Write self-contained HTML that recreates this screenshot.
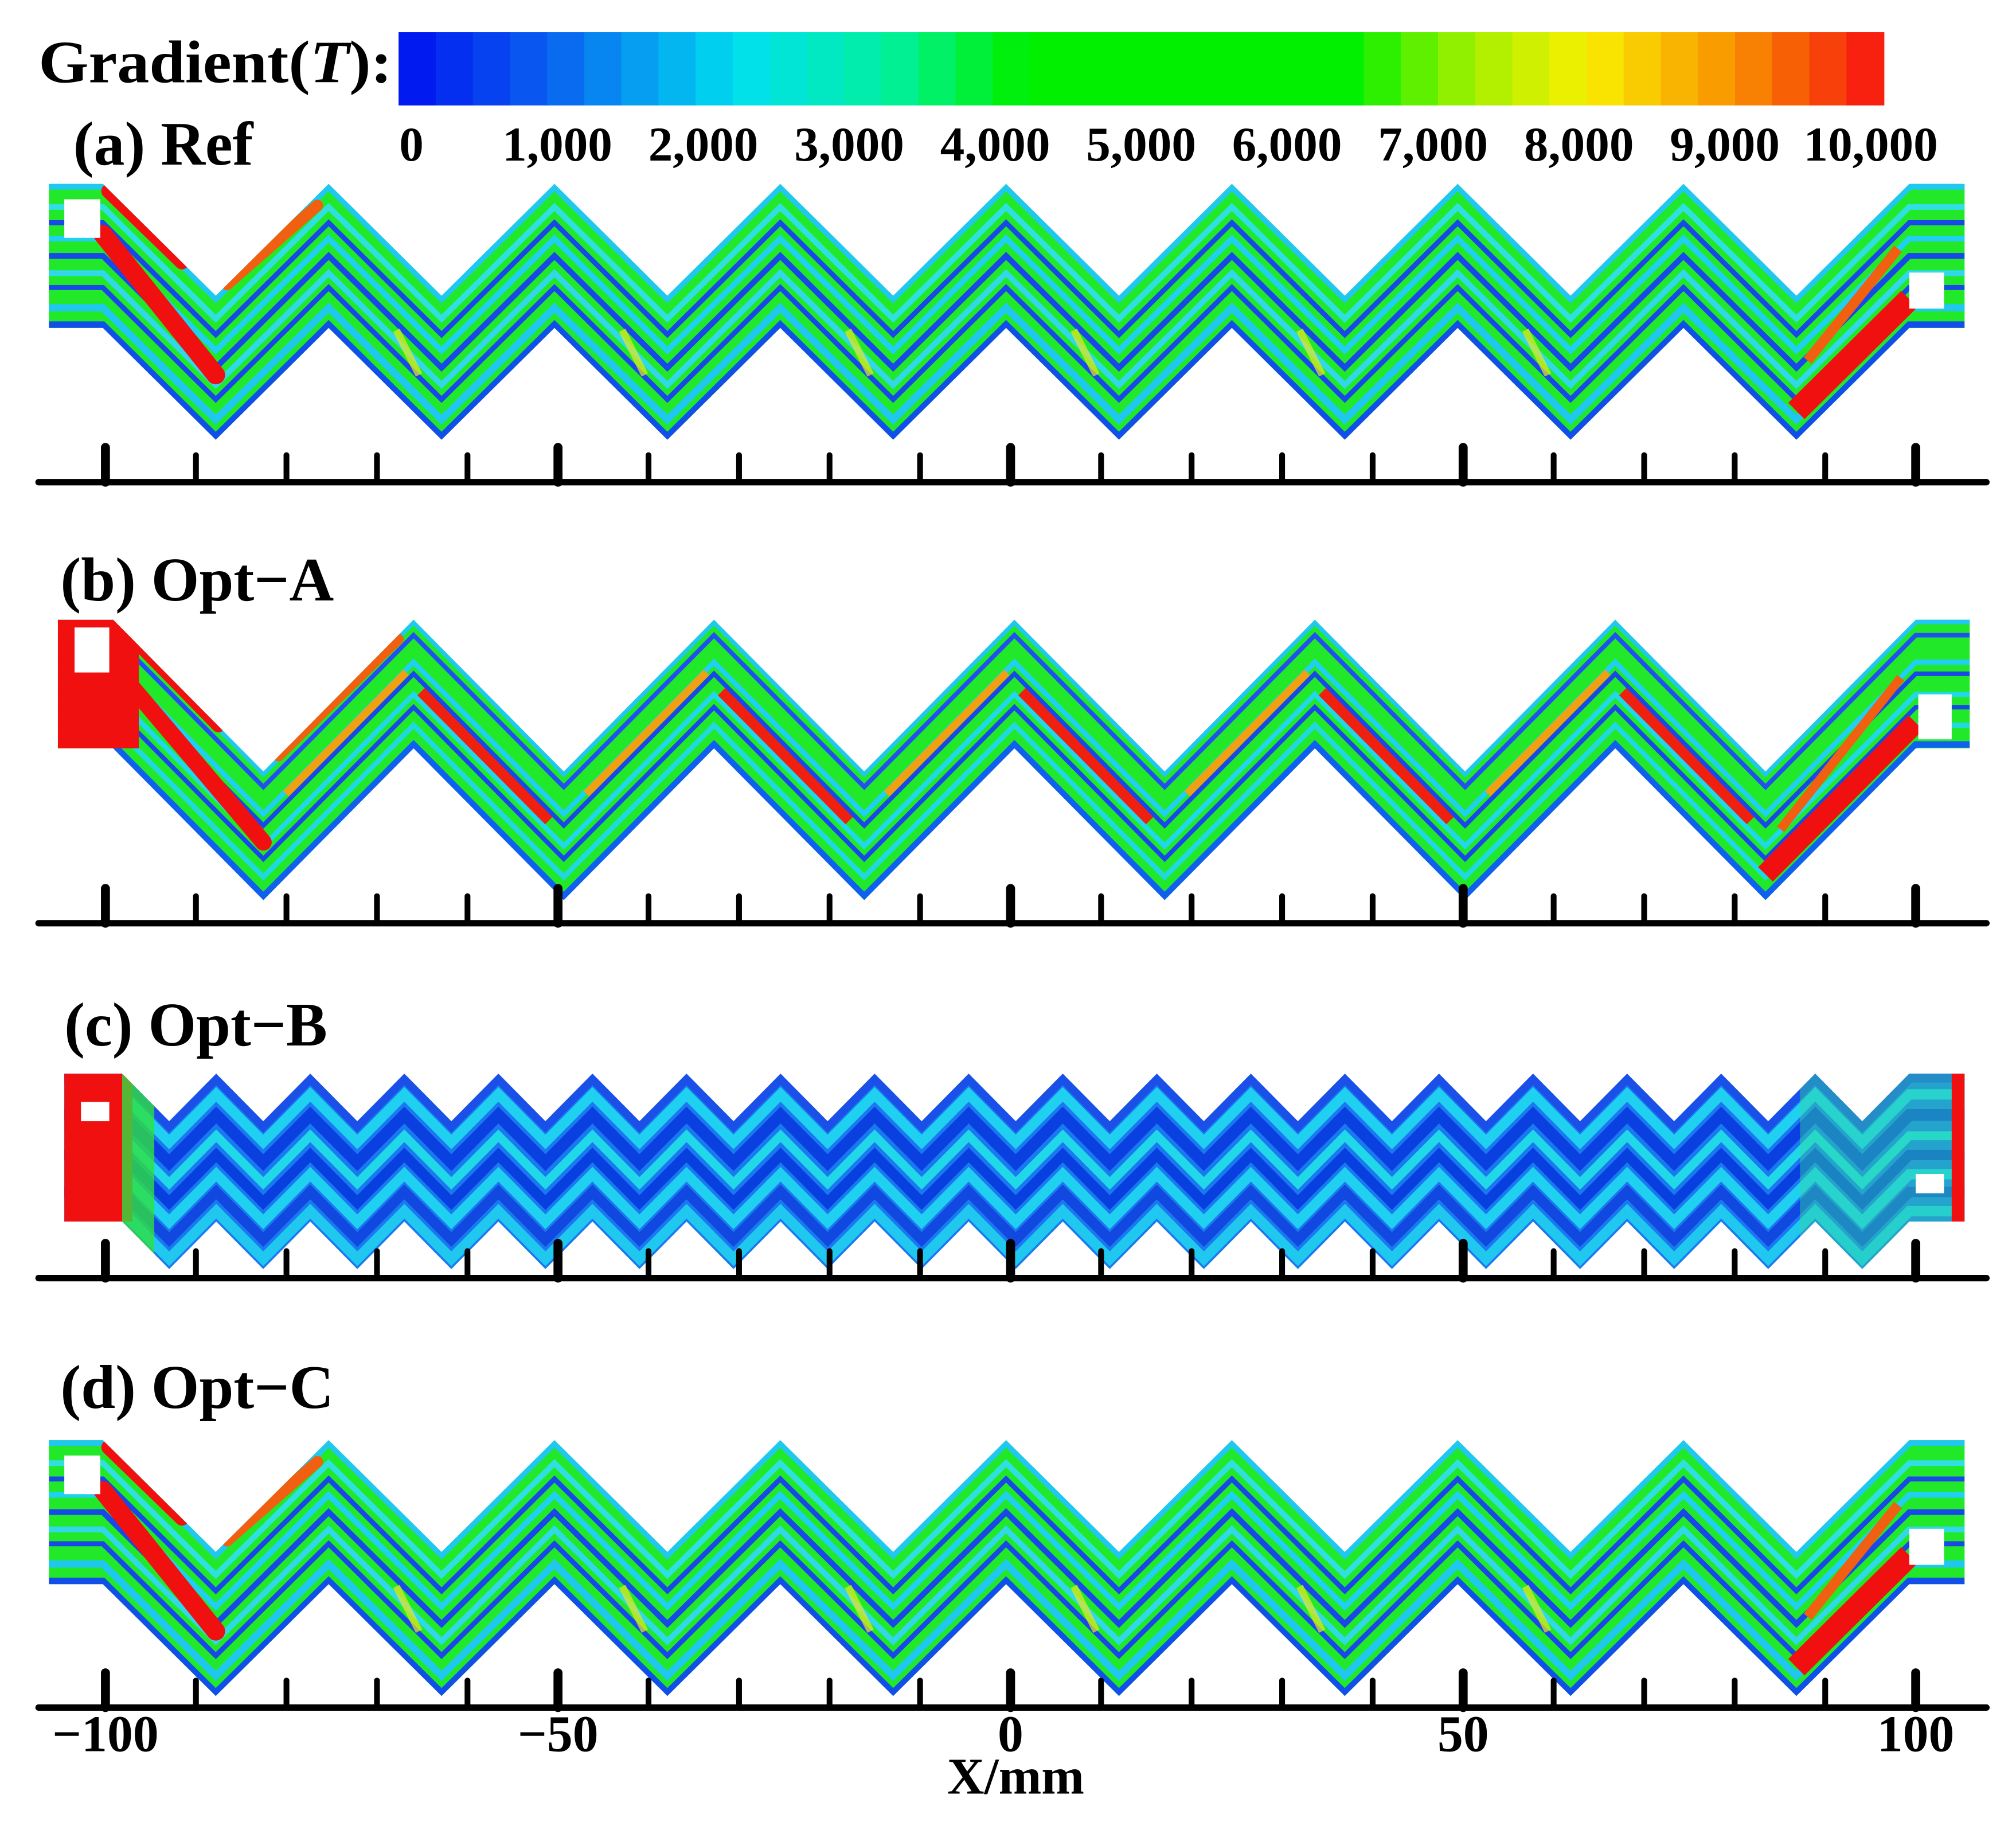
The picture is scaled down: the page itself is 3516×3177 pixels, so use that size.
<!DOCTYPE html>
<html><head><meta charset="utf-8"><style>
html,body{margin:0;padding:0;background:#fff;}
svg{display:block;}
text{font-family:"Liberation Serif",serif;font-weight:bold;fill:#000;}
</style></head><body>
<svg id="fig" xmlns="http://www.w3.org/2000/svg" width="3516" height="3177" viewBox="0 0 1568 1417" preserveAspectRatio="none">
<defs id="defs"></defs>
<text x="30" y="64" font-size="47" textLength="275" lengthAdjust="spacingAndGlyphs">Gradient(<tspan font-style="italic">T</tspan>):</text>
<g id="cbar"></g>
<g id="cbticks"></g>
<g id="panels"></g>
<text x="790" y="1395" font-size="40" text-anchor="middle">X/mm</text>
</svg>
<script>
const cbTickValues=[0,1000,2000,3000,4000,5000,6000,7000,8000,9000,10000];
const cbTickLabels=["0","1,000","2,000","3,000","4,000","5,000","6,000","7,000","8,000","9,000","10,000"];
const cbStopPos=[0,0.1,0.23,0.33,0.42,0.64,0.72,0.8,0.9,1];
const cbStopCol=["#0010f0","#0a60f0","#00e0f0","#00f0a0","#00f000","#00f000","#a0f000","#f8f000","#f89000","#f81010"];
const xMajor=[-100,-50,0,50,100];
const xMajorLabels=["\u2212100","\u221250","0","50","100"];
const xMinor=[-90,-80,-70,-60,-40,-30,-20,-10,10,20,30,40,60,70,80,90];
const panelNames=["(a) Ref","(b) Opt\u2212A","(c) Opt\u2212B","(d) Opt\u2212C"];
const panelTop=[143,482,835,1120];
const panelRectH=[112,100,115,112];
const panelAmp=[87,118,37,87];
const panelPeriods=[8,6,19,8];

const NS="http://www.w3.org/2000/svg";
const svg=document.getElementById('fig');
function mk(tag,attrs,parent){const e=document.createElementNS(NS,tag);for(const k in attrs)e.setAttribute(k,attrs[k]);parent.appendChild(e);return e;}
const cbX0=310,cbX1=1465,cbY=25,cbH=57;
function lerp(a,b,t){return a+(b-a)*t;}
function hex(c){return [parseInt(c.slice(1,3),16),parseInt(c.slice(3,5),16),parseInt(c.slice(5,7),16)];}
function cmap(t){for(let i=0;i<cbStopPos.length-1;i++){if(t<=cbStopPos[i+1]){const u=(t-cbStopPos[i])/(cbStopPos[i+1]-cbStopPos[i]);const a=hex(cbStopCol[i]),b=hex(cbStopCol[i+1]);return `rgb(${Math.round(lerp(a[0],b[0],u))},${Math.round(lerp(a[1],b[1],u))},${Math.round(lerp(a[2],b[2],u))})`;}}return cbStopCol[cbStopCol.length-1];}
const cb=document.getElementById('cbar');
const nSeg=40;
for(let i=0;i<nSeg;i++){
  const r=mk('rect',{x:cbX0+(cbX1-cbX0)*i/nSeg,y:cbY,width:(cbX1-cbX0)/nSeg+0.6,height:cbH,fill:cmap((i+0.5)/nSeg)},cb);
  
  
}
const cbScale=v=>320+(1455-320)*v/10000;
const cbt=document.getElementById('cbticks');
cbTickValues.forEach((v,i)=>{
  const t=mk('text',{x:cbScale(v),y:125,'font-size':38,'text-anchor':'middle'},cbt);
  t.textContent=cbTickLabels[i];
  
  
});
const xs=v=>786+v*7.04;
const panelsG=document.getElementById('panels');
const axisY=[375,718,994,1328];
const labelPos=[[57,128],[47,467],[50,813],[47,1095]];

function buildPanel(p){
  const g=mk('g',{},panelsG);
  
  
  const top=panelTop[p],H=panelRectH[p],A=panelAmp[p],n=panelPeriods[p];
  const inL=[38,45,50,38][p],x0=[80,88,95,80][p],x1=[1485,1490,1485,1485][p],outR=[1528,1532,1528,1528][p];
  const h=(x1-x0)/(2*n);
  function edge(off,ext){const pts=[[inL-ext,top+off],[x0,top+off]];for(let i=1;i<=2*n;i++)pts.push([x0+i*h,top+off+(i%2?A:0)]);pts.push([outR+ext,top+off]);return pts;}
  const t=edge(0,0),b=edge(H,0).reverse();
  const poly=t.concat(b).map(q=>q.join(',')).join(' ');
  const cid='clip'+p;
  const cp=mk('clipPath',{id:cid},document.getElementById('defs'));
  mk('polygon',{points:poly},cp);
  const base=['#22e82a','#22e82a','#1a78f0','#22e82a'][p];
  const shape=mk('polygon',{points:poly,fill:base},g);
  
  
  const cg=mk('g',{'clip-path':`url(#${cid})`},g);
  let stripes;
  if(p===2) stripes=[[0.02,'#1a50e8',.08],[0.14,'#20d0f0',.07],[0.28,'#0a40e0',.08],[0.42,'#20d8e8',.06],[0.55,'#0840e0',.07],[0.68,'#20d0f0',.07],[0.8,'#1048e0',.07],[0.93,'#20c8f0',.07]];
  else if(p===1) stripes=[[0.01,'#20c8f0',.05],[0.12,'#2050f0',.035],[0.33,'#20d0f0',.04],[0.42,'#1848e8',.035],[0.58,'#20d8e8',.04],[0.68,'#1848e8',.035],[0.82,'#20d8e0',.04],[0.97,'#1060f0',.05]];
  else stripes=[[0.01,'#20c8f0',.06],[0.16,'#30e0e0',.04],[0.27,'#1848e8',.035],[0.38,'#20d0f0',.04],[0.5,'#1848e8',.04],[0.62,'#30d8e8',.04],[0.72,'#1848e8',.035],[0.86,'#20c8f0',.05],[0.98,'#1050e8',.05]];
  stripes.forEach(s=>{
    const pts=edge(s[0]*H,20).map(q=>q.join(',')).join(' ');
    const pl=mk('polyline',{points:pts,fill:'none',stroke:s[1],'stroke-width':s[2]*H,'stroke-linejoin':'miter'},cg);
    
    
  });
  if(p!==2){
    const red=mk('g',{},cg);
    mk('line',{x1:x0,y1:top+H*0.35,x2:x0+h,y2:top+A+H*0.55,stroke:'#f01010','stroke-width':H*0.13,'stroke-linecap':'round'},red);
    mk('line',{x1:x0+h*0.05,y1:top+H*0.05,x2:x0+h*0.7,y2:top+A*0.7,stroke:'#f01010','stroke-width':H*0.1,'stroke-linecap':'round'},red);
    mk('line',{x1:x0+h*1.1,y1:top+A*0.9,x2:x0+h*1.9,y2:top+H*0.15,stroke:'#f06010','stroke-width':H*0.08,'stroke-linecap':'round'},red);
    mk('line',{x1:x1-h,y1:top+A+H*0.8,x2:x1,y2:top+H*0.8,stroke:'#f01010','stroke-width':H*0.16},red);
    mk('line',{x1:x1-h*0.9,y1:top+A+H*0.45,x2:x1-h*0.1,y2:top+H*0.45,stroke:'#f06010','stroke-width':H*0.07},red);
  }
  if(p===0||p===3){
    for(let k=1;k<n-1;k++){mk('line',{x1:x0+(2*k)*h+h*0.6,y1:top+A*0.6+H*0.55,x2:x0+(2*k+1)*h-h*0.2,y2:top+A+H*0.55,stroke:'#e8e820','stroke-width':H*0.05,opacity:0.7},cg);}
  }
  if(p===1){
    mk('rect',{x:inL,y:top,width:x0-inL+20,height:H,fill:'#f01010'},cg);
    for(let k=0;k<n-1;k++){mk('line',{x1:x0+(2*k+1)*h+h*0.15,y1:top+H*0.35+A*0.85,x2:x0+(2*k+2)*h-h*0.05,y2:top+H*0.35+A*0.05,stroke:'#f0a010','stroke-width':H*0.06},cg);}
    for(let k=1;k<n;k++){mk('line',{x1:x0+(2*k)*h+h*0.05,y1:top+H*0.5+A*0.05,x2:x0+(2*k+1)*h-h*0.1,y2:top+H*0.5+A*0.9,stroke:'#f02010','stroke-width':H*0.08},cg);}
  }
  if(p===2){
    mk('rect',{x:inL,y:top,width:x0-inL+8,height:H,fill:'#f01010'},cg);
    mk('rect',{x:x0,y:top,width:25,height:H+A,fill:'#30e040',opacity:0.8},cg);
    mk('rect',{x:1400,y:top,width:130,height:H+A,fill:'#30d8a0',opacity:0.45},cg);
    mk('rect',{x:1518,y:top,width:12,height:H,fill:'#f01010'},cg);
  }
  const ports=[[[50,155,28,30],[1485,212,27,28]],[[58,488,27,35],[1492,540,26,35]],[[63,857,22,15],[1490,913,22,15]],[[50,1132,28,30],[1485,1189,27,28]]][p];
  ports.forEach(r=>{const e=mk('rect',{x:r[0],y:r[1],width:r[2],height:r[3],fill:'#fff'},g);});
  const lt=mk('text',{x:labelPos[p][0],y:labelPos[p][1],'font-size':48},g);
  lt.textContent=panelNames[p];
  
  
  const ay=axisY[p];
  const ax=mk('line',{x1:30,y1:ay,x2:1545,y2:ay,stroke:'#000','stroke-width':5,'stroke-linecap':'round'},g);
  
  
  xMajor.forEach(v=>{const l=mk('line',{x1:xs(v),y1:ay-27,x2:xs(v),y2:ay,stroke:'#000','stroke-width':7,'stroke-linecap':'round'},g);});
  xMinor.forEach(v=>{const l=mk('line',{x1:xs(v),y1:ay-21,x2:xs(v),y2:ay,stroke:'#000','stroke-width':4.5,'stroke-linecap':'round'},g);});
}
for(let p=0;p<4;p++) buildPanel(p);
const xl=mk('g',{},svg);


xMajor.forEach((v,i)=>{const t=mk('text',{x:xs(v),y:1362,'font-size':40,'text-anchor':'middle'},xl);t.textContent=xMajorLabels[i];});
</script>
</body></html>
